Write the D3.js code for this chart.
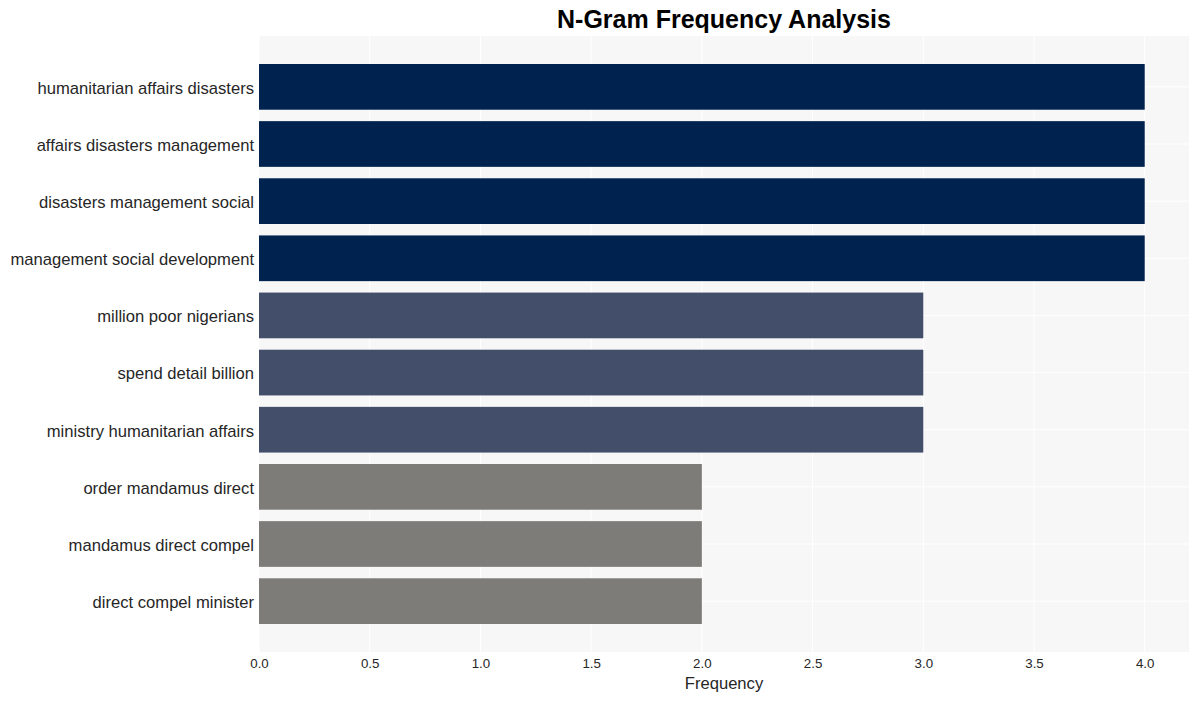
<!DOCTYPE html>
<html>
<head>
<meta charset="utf-8">
<script src="https://cdn.jsdelivr.net/npm/d3@7"></script>
<style>
  body { margin: 0; background: #fff; }
  text { font-family: "Liberation Sans", Arial, sans-serif; }
</style>
</head>
<body>
<svg id="chart" width="1199" height="701"></svg>
<script>
// n-gram labels, top to bottom
const ngrams = [
    "humanitarian affairs disasters",
    "affairs disasters management",
    "disasters management social",
    "management social development",
    "million poor nigerians",
    "spend detail billion",
    "ministry humanitarian affairs",
    "order mandamus direct",
    "mandamus direct compel",
    "direct compel minister"
];
const counts = [4, 4, 4, 4, 3, 3, 3, 2, 2, 2];
const xTicks = [0, 0.5, 1, 1.5, 2, 2.5, 3, 3.5, 4];
const colorByCount = { 4: "#00224e", 3: "#434e6b", 2: "#7d7c78" };

const svg = d3.select("#chart");
const plotLeft = 259, plotRight = 1189, plotTop = 36, plotBottom = 652;

const x = d3.scaleLinear().domain([0, 4.2]).range([plotLeft, plotRight]);
// category index as a number, with matplotlib style padding
const y = d3.scaleLinear().domain([-0.89, ngrams.length - 1 + 0.89]).range([plotTop, plotBottom]);
const barH = y(0.8) - y(0);

// plot background
svg.append("rect")
    .attr("x", plotLeft).attr("y", plotTop)
    .attr("width", plotRight - plotLeft).attr("height", plotBottom - plotTop)
    .attr("fill", "#f7f7f7");

// grid
svg.append("g").selectAll("line")
    .data(xTicks)
    .enter().append("line")
    .attr("x1", d => x(d)).attr("x2", d => x(d))
    .attr("y1", plotTop).attr("y2", plotBottom)
    .attr("stroke", "#ffffff").attr("stroke-width", 1);

svg.append("g").selectAll("line")
    .data(ngrams)
    .enter().append("line")
    .attr("x1", plotLeft).attr("x2", plotRight)
    .attr("y1", (d, i) => y(i)).attr("y2", (d, i) => y(i))
    .attr("stroke", "#ffffff").attr("stroke-width", 1);

// bars
svg.append("g").selectAll("rect")
    .data(ngrams)
    .enter().append("rect")
    .attr("x", x(0))
    .attr("y", (d, i) => y(i - 0.4))
    .attr("width", (d, i) => x(counts[i]) - x(0))
    .attr("height", barH)
    .attr("fill", (d, i) => colorByCount[counts[i]]);

// y labels
svg.append("g").selectAll("text")
    .data(ngrams)
    .enter().append("text")
    .attr("x", plotLeft - 5)
    .attr("y", (d, i) => y(i) + 1)
    .attr("dy", "0.35em")
    .attr("text-anchor", "end")
    .attr("font-size", 16.6)
    .attr("fill", "#262626")
    .text(d => d);

// x axis
const xAxis = d3.axisBottom(x)
    .tickValues(xTicks)
    .tickFormat(d3.format(".1f"))
    .tickSize(0)
    .tickPadding(7);

const gx = svg.append("g")
    .attr("transform", `translate(0,${plotBottom})`)
    .call(xAxis);
gx.select(".domain").remove();
gx.selectAll("text")
    .attr("font-size", 13.3)
    .attr("fill", "#262626")
    .style("font-family", "'Liberation Sans', Arial, sans-serif");

svg.append("text")
    .attr("x", (plotLeft + plotRight) / 2)
    .attr("y", 689)
    .attr("text-anchor", "middle")
    .attr("font-size", 16.6)
    .attr("fill", "#262626")
    .text("Frequency");

// title
svg.append("text")
    .attr("x", (plotLeft + plotRight) / 2)
    .attr("y", 28)
    .attr("text-anchor", "middle")
    .attr("font-size", 25)
    .attr("font-weight", "bold")
    .attr("fill", "#000")
    .text("N-Gram Frequency Analysis");
</script>
</body>
</html>
